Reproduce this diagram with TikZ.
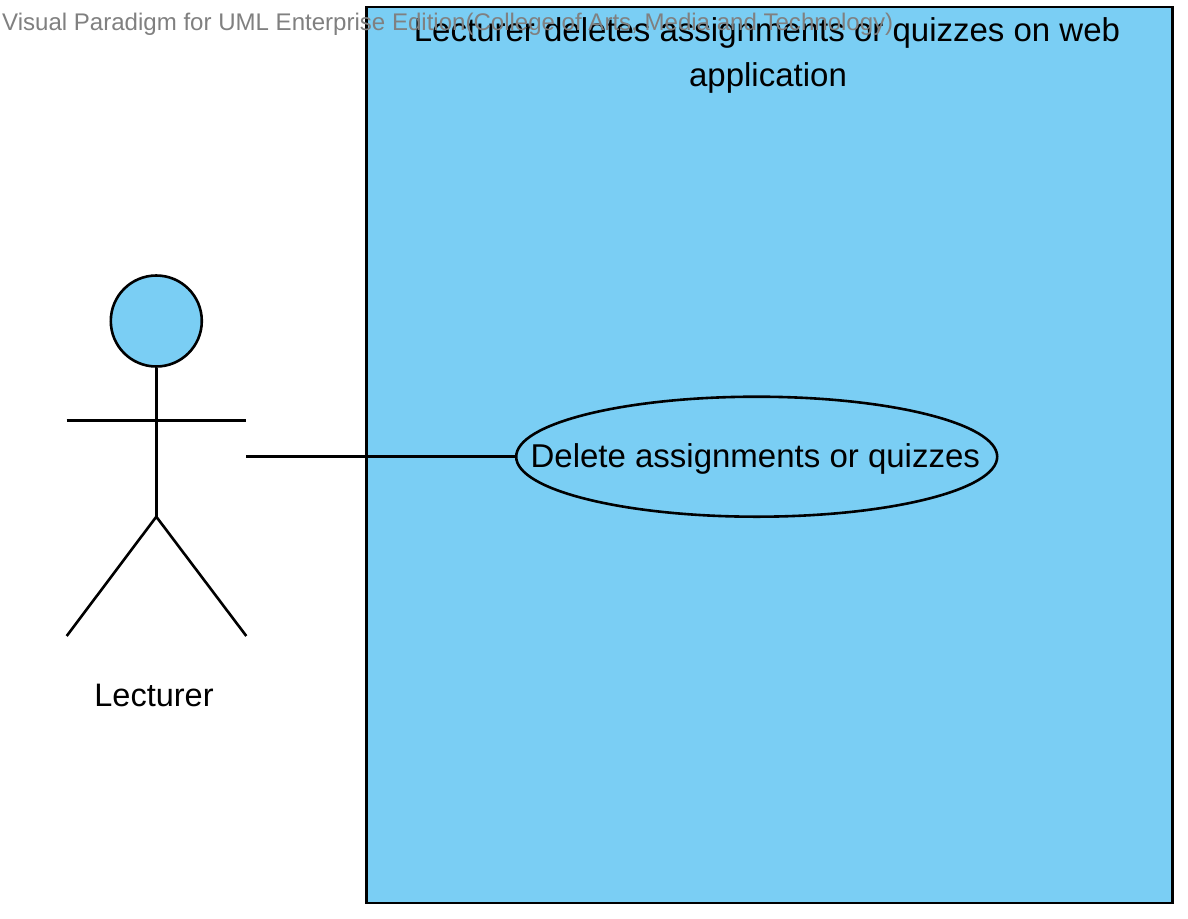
\documentclass[tikz,border=0pt]{standalone}
\usepackage{fontspec}
\setmainfont{Liberation Sans}
\usetikzlibrary{shapes.geometric}
\definecolor{vpblue}{RGB}{122,206,244}
\definecolor{vpgray}{RGB}{128,128,128}
\begin{document}
\begin{tikzpicture}[x=1pt,y=-1pt,
  lineblk/.style={draw=black,line width=2.6pt},
  bigtxt/.style={inner sep=0pt,anchor=base,font=\fontsize{33}{45}\selectfont},
  wmtxt/.style={inner sep=0pt,anchor=base west,text=vpgray,font=\fontsize{24.05}{28}\selectfont}]
\useasboundingbox (0,0) rectangle (1188,918);
\fill[white] (0,0) rectangle (1188,918);
% system boundary
\node[draw=black,line width=2.9pt,fill=vpblue,minimum width=806pt,minimum height=896pt,inner sep=0pt] (sys) at (769.7,455) {};
\node[bigtxt] (title1) at (767,41.7) {Lecturer deletes assignments or quizzes on web};
\node[bigtxt] (title2) at (768,86.7) {application};
% use case
\node[lineblk,ellipse,fill=vpblue,minimum width=481pt,minimum height=120pt,inner sep=0pt] (uc) at (756.7,456.7) {};
\node[bigtxt] (uctext) at (755.3,467.3) {Delete assignments or quizzes};
% actor
\node[lineblk,circle,fill=vpblue,minimum size=91pt,inner sep=0pt] (head) at (156.3,321) {};
\coordinate (hip) at (156.3,516.7);
\coordinate (armL) at (66.7,420.3);
\coordinate (armR) at (246.3,420.3);
\coordinate (legL) at (66.7,636);
\coordinate (legR) at (246.3,636);
\coordinate (actorR) at (246.3,456.7);
\draw[lineblk] (head.south) -- (hip);
\draw[lineblk] (armL) -- (armR);
\draw[lineblk] (legL) -- (hip) -- (legR);
\node[bigtxt,font=\fontsize{32.5}{40}\selectfont] (actorlbl) at (154,706.7) {Lecturer};
% association
\draw[lineblk] (actorR) -- (uc.west);
% watermark
\node[wmtxt] (wm) at (2,30.5) {Visual Paradigm for UML Enterprise Edition(College of Arts, Media and Technology)};
\end{tikzpicture}
\end{document}
